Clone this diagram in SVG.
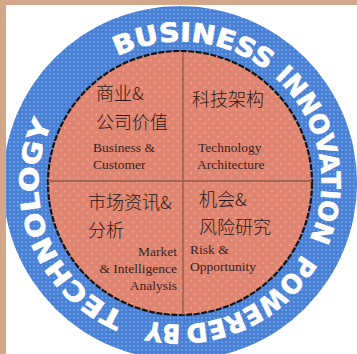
<svg xmlns="http://www.w3.org/2000/svg" width="357" height="354" viewBox="0 0 357 354">
  <defs>
    <pattern id="blueDots" width="4" height="4" patternUnits="userSpaceOnUse">
      <rect width="4" height="4" fill="#4a7fd4"/>
      <circle cx="2" cy="2" r="1" fill="#69a6ea"/>
    </pattern>
    <pattern id="salmonDots" width="9" height="9" patternUnits="userSpaceOnUse">
      <rect width="9" height="9" fill="#df8571"/>
      <circle cx="2" cy="2" r="1.1" fill="#eda18b"/>
      <circle cx="6.5" cy="6.5" r="1.1" fill="#eda18b"/>
    </pattern>
    <!-- clockwise circle for the ring lettering, starting in the upper-left gap -->
    <path id="ringPath" d="M80.3,83.3 A141,141 0 1 1 279.7,282.7 A141,141 0 1 1 80.3,83.3"/>
  </defs>
  <style>
    .ring { font-family: "DejaVu Sans", "Liberation Sans", sans-serif; font-weight: bold; font-size: 26px; fill: #ffffff; stroke: #ffffff; stroke-width: 0.8; }
    .cjk { font-family: "Noto Sans CJK SC", "Noto Sans", sans-serif; font-weight: 300; font-size: 18px; fill: #2a1816; }
    .en { font-family: "Liberation Serif", "DejaVu Serif", serif; font-size: 13.5px; fill: #3a2320; }
    .divider { stroke: #8e5a4a; stroke-width: 1.3; fill: none; }
  </style>

  <!-- page -->
  <rect width="357" height="354" fill="#ffffff"/>

  <!-- blue ring with its lettering -->
  <g id="ring">
    <circle cx="180" cy="183" r="177" fill="url(#blueDots)"/>
    <text class="ring">
      <textPath href="#ringPath" startOffset="46" textLength="158" lengthAdjust="spacingAndGlyphs">BUSINESS</textPath>
    </text>
    <text class="ring">
      <textPath href="#ringPath" startOffset="214" textLength="178" lengthAdjust="spacingAndGlyphs">INNOVATION</textPath>
    </text>
    <text class="ring">
      <textPath href="#ringPath" startOffset="408" textLength="142" lengthAdjust="spacingAndGlyphs">POWERED</textPath>
    </text>
    <text class="ring">
      <textPath href="#ringPath" startOffset="555" textLength="33" lengthAdjust="spacingAndGlyphs">BY</textPath>
    </text>
    <text class="ring">
      <textPath href="#ringPath" startOffset="612" textLength="228" lengthAdjust="spacingAndGlyphs">TECHNOLOGY</textPath>
    </text>
  </g>

  <!-- inner disc -->
  <g id="disc">
    <circle cx="180" cy="183" r="132" fill="url(#salmonDots)"/>
    <circle cx="180" cy="183" r="132" fill="none" stroke="#141414" stroke-width="2.2" stroke-dasharray="6 1.5"/>
  </g>

  <!-- quadrant dividers -->
  <g id="connectors">
    <line class="divider" x1="183" y1="52" x2="183" y2="315"/>
    <line class="divider" x1="48" y1="181" x2="312" y2="181"/>
  </g>

  <g id="business-customer">
    <text class="cjk" x="96" y="100">商业&amp;</text>
    <text class="cjk" x="96" y="129">公司价值</text>
    <text class="en" x="93" y="152">Business &amp;</text>
    <text class="en" x="93" y="169">Customer</text>
  </g>

  <g id="technology-architecture">
    <text class="cjk" x="192" y="106">科技架构</text>
    <text class="en" x="198" y="152">Technology</text>
    <text class="en" x="197" y="169">Architecture</text>
  </g>

  <g id="market-intelligence">
    <text class="cjk" x="88" y="209">市场资讯&amp;</text>
    <text class="cjk" x="88" y="237">分析</text>
    <text class="en" x="177" y="256" text-anchor="end">Market</text>
    <text class="en" x="177" y="273" text-anchor="end">&amp; Intelligence</text>
    <text class="en" x="177" y="290" text-anchor="end">Analysis</text>
  </g>

  <g id="risk-opportunity">
    <text class="cjk" x="199" y="206">机会&amp;</text>
    <text class="cjk" x="199" y="234">风险研究</text>
    <text class="en" x="190" y="254">Risk &amp;</text>
    <text class="en" x="190" y="271">Opportunity</text>
  </g>

  <!-- frame strips along top and left -->
  <rect x="0" y="0" width="357" height="5" fill="#d4a78b"/>
  <rect x="0" y="0" width="6" height="354" fill="#d4a78b"/>
</svg>
